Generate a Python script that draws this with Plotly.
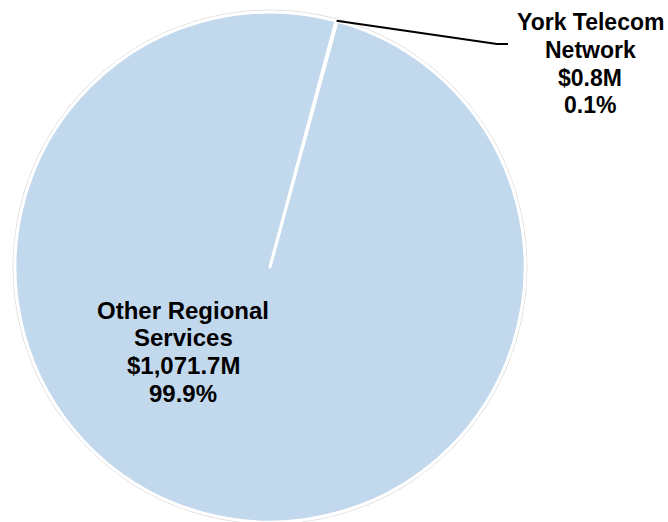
import math
import plotly.graph_objects as go

# ---- data ----
labels = ["York Telecom Network", "Other Regional Services"]
values = [0.8, 1071.7]
value_text = ["$0.8M", "$1,071.7M"]
pct_text = ["0.1%", "99.9%"]
name_lines = [["York Telecom", "Network"], ["Other Regional", "Services"]]
colors = ["#2E75B6", "#C2D8EC"]

W, H = 668, 522
ROT = 15  # degrees clockwise from 12 o'clock
dom_x = [15 / W, 525 / W]
dom_y = [0.0, 0.977]

fig = go.Figure(go.Pie(
    labels=labels,
    values=values,
    sort=False,
    direction="clockwise",
    rotation=ROT,
    marker=dict(colors=colors, line=dict(color="white", width=3)),
    textinfo="none",
    hoverinfo="label+value+percent",
    showlegend=False,
    domain=dict(x=dom_x, y=dom_y),
))

# geometry of the pie (pixels)
cx = (dom_x[0] + dom_x[1]) / 2 * W
cy = H - (dom_y[0] + dom_y[1]) / 2 * H
R = min((dom_x[1] - dom_x[0]) * W, (dom_y[1] - dom_y[0]) * H) / 2

def px2paper(x, y):
    return x / W, 1 - y / H

# faint outer ring
r_out = R + 2
a = px2paper(cx - r_out, cy - r_out)
b = px2paper(cx + r_out, cy + r_out)
fig.add_shape(type="circle", xref="paper", yref="paper",
              x0=a[0], y0=b[1], x1=b[0], y1=a[1],
              line=dict(color="#dcdcdc", width=1), layer="below")

total = sum(values)
mid_angle = math.radians(ROT + 0.5 * values[0] / total * 360)
ex = cx + R * math.sin(mid_angle)
ey = cy - R * math.cos(mid_angle)

# leader line for the small slice
elbow = (497, 44)
end = (508, 44)
p0 = px2paper(ex, ey)
p1 = px2paper(*elbow)
p2 = px2paper(*end)
fig.add_shape(type="path", xref="paper", yref="paper",
              path=f"M {p0[0]},{p0[1]} L {p1[0]},{p1[1]} L {p2[0]},{p2[1]}",
              line=dict(color="black", width=2))

font_sizes = [23, 24]
label_pos = [(590, 22), (183, 310)]  # (centre x, first line centre y) in px
spacing = 27.8
for i in range(len(labels)):
    lines = name_lines[i] + [value_text[i], pct_text[i]]
    x0, y0 = label_pos[i]
    font = dict(family="Arial, Liberation Sans, sans-serif", size=font_sizes[i], color="black")
    for j, t in enumerate(lines):
        px, py = px2paper(x0, y0 + j * spacing)
        fig.add_annotation(x=px, y=py, xref="paper", yref="paper",
                           text=f"<b>{t}</b>", showarrow=False,
                           xanchor="center", yanchor="middle", font=font)

fig.update_layout(
    width=W, height=H,
    margin=dict(l=0, r=0, t=0, b=0),
    paper_bgcolor="white", plot_bgcolor="white",
)

fig.write_html("out.html", config={"displayModeBar": False},
               post_script="document.body.style.margin='0px';")
